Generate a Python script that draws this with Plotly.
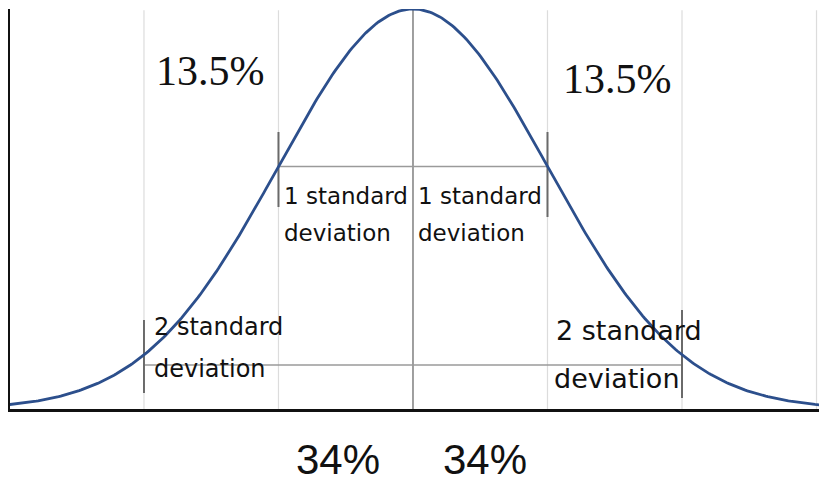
import numpy as np
import plotly.graph_objects as go

# Bell curve in units of standard deviations
sd_grid = [-2, -1, 1, 2, 3]
mean = 0.0
sd = 1.0

# percentage labels
upper_pct = ["13.5%", "13.5%"]
lower_pct = ["34%", "34%"]

# bracket levels (relative height of the curve)
one_sd_level = np.exp(-0.5)
two_sd_level = 0.11

# tick marks at the ends of the brackets: (x, y_from, y_to)
bracket_ticks = [(-1, 0.505, 0.6925), (1, 0.48, 0.6925),
                 (-2, 0.04, 0.2225), (2, 0.0275, 0.2475)]

x = np.linspace(-3.0, 3.08, 400)
y = np.exp(-0.5 * ((x - mean) / sd) ** 2)

fig = go.Figure()

fig.add_trace(go.Scatter(
    x=x, y=y, mode='lines',
    line=dict(color='#2c4f8c', width=2.8),
    hoverinfo='skip', showlegend=False,
))

shapes = []
# light vertical grid
for g in sd_grid:
    shapes.append(dict(type='line', x0=g, x1=g, y0=0, y1=0.997, xref='x', yref='y',
                       line=dict(color='#dcdcdc', width=1.2), layer='below'))
# mean line
shapes.append(dict(type='line', x0=mean, x1=mean, y0=0, y1=1.0, xref='x', yref='y',
                   line=dict(color='#777777', width=1.4), layer='below'))
# brackets
shapes.append(dict(type='line', x0=-1, x1=1, y0=one_sd_level, y1=one_sd_level,
                   line=dict(color='#9a9a9a', width=1.5), layer='below'))
shapes.append(dict(type='line', x0=-2, x1=2, y0=two_sd_level, y1=two_sd_level,
                   line=dict(color='#9a9a9a', width=1.5), layer='below'))
for bx, b0, b1 in bracket_ticks:
    shapes.append(dict(type='line', x0=bx, x1=bx, y0=b0, y1=b1,
                       line=dict(color='#6a6a6a', width=2), layer='below'))

annotations = []
serif = dict(family='Liberation Serif', size=42, color='#111111')
sans_big = dict(family='Liberation Sans', size=42, color='#111111')
# 13.5% labels
annotations.append(dict(x=-1.509, y=0.845, text=upper_pct[0], font=serif, yref='y'))
annotations.append(dict(x=1.524, y=0.825, text=upper_pct[1], font=serif, yref='y'))
# 34% labels (below the axis)
annotations.append(dict(x=-0.558, y=-0.125, text=lower_pct[0], font=sans_big,
                        yref='paper', yanchor='middle'))
annotations.append(dict(x=0.535, y=-0.125, text=lower_pct[1], font=sans_big,
                        yref='paper', yanchor='middle'))

lab = dict(family='DejaVu Sans', color='#111111')
label_specs = [
    (-0.975, 0.5325, '1 standard', 23),
    (-0.975, 0.44, 'deviation', 23),
    (0.025, 0.5325, '1 standard', 23),
    (0.025, 0.44, 'deviation', 23),
    (-1.94, 0.205, '2 standard', 24),
    (-1.94, 0.10, 'deviation', 24),
    (1.05, 0.1975, '2 standard', 27),
    (1.035, 0.0775, 'deviation', 27),
]
for ax, ay, txt, sz in label_specs:
    annotations.append(dict(x=ax, y=ay, text=txt, xanchor='left', yref='y',
                            font=dict(size=sz, **lab)))

for a in annotations:
    a.update(xref='x', showarrow=False)

fig.update_layout(
    width=827, height=482,
    margin=dict(l=2, r=8, t=1, b=81),
    paper_bgcolor='white', plot_bgcolor='white',
    shapes=shapes, annotations=annotations,
    xaxis=dict(range=[-2.996, 3.078], showgrid=False, zeroline=False,
               showticklabels=False, ticks='', showline=True,
               linecolor='#111111', linewidth=3),
    yaxis=dict(range=[0, 1.0], showgrid=False, zeroline=False,
               showticklabels=False, ticks='', showline=True,
               linecolor='#111111', linewidth=3),
)

fig.write_html("out.html")
